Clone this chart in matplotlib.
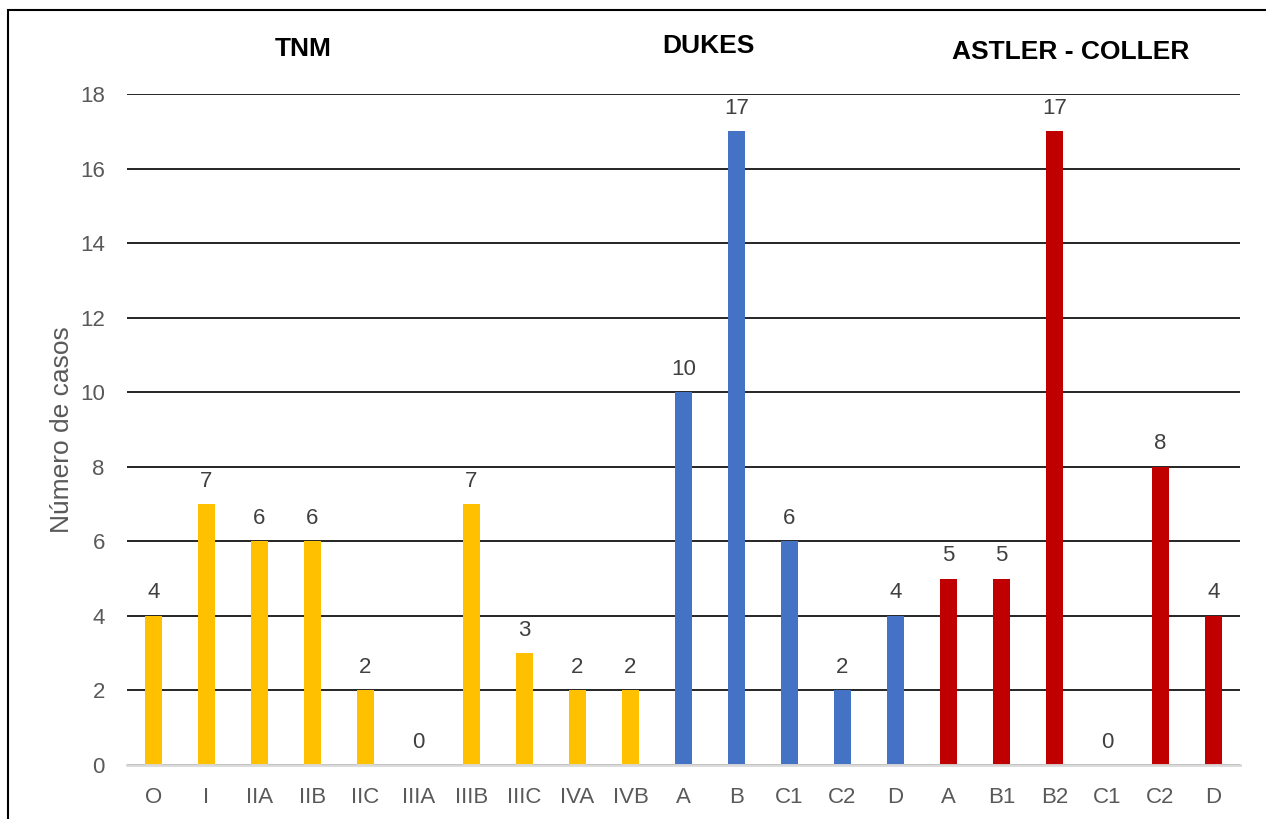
import matplotlib
matplotlib.use("Agg")
import matplotlib.pyplot as plt
from matplotlib.patches import Rectangle

plt.rcParams['font.family'] = ['Liberation Sans', 'DejaVu Sans']

# staging systems and case counts
tnm_labels = ["O", "I", "IIA", "IIB", "IIC", "IIIA", "IIIB", "IIIC", "IVA", "IVB"]
tnm_values = [4, 7, 6, 6, 2, 0, 7, 3, 2, 2]
dukes_labels = ["A", "B", "C1", "C2", "D"]
dukes_values = [10, 17, 6, 2, 4]
astler_labels = ["A", "B1", "B2", "C1", "C2", "D"]
astler_values = [5, 5, 17, 0, 8, 4]

groups = [
    ("TNM", tnm_labels, tnm_values, "#FFC000"),
    ("DUKES", dukes_labels, dukes_values, "#4472C4"),
    ("ASTLER - COLLER", astler_labels, astler_values, "#C00000"),
]

fig = plt.figure(figsize=(12.66, 8.19), dpi=100)
ax = fig.add_axes([127 / 1266, 1 - 765 / 819, (1240 - 127) / 1266, (765 - 94) / 819])

tick_labels = []
pos = 0
for name, labels, values, color in groups:
    xs = list(range(pos, pos + len(labels)))
    ax.bar(xs, values, width=0.32, color=color, zorder=3)
    for x, v in zip(xs, values):
        ax.annotate(str(v), (x, v), xytext=(0, 9), textcoords="offset points",
                    ha="center", va="bottom", fontsize=16, color="#404040")
    tick_labels += labels
    pos += len(labels)

ax.set_xticks(range(len(tick_labels)))
ax.set_xticklabels(tick_labels)
ax.set_xlim(-0.5, len(tick_labels) - 0.5)
ax.set_ylim(0, 18)
ax.set_yticks(range(0, 19, 2))

ax.tick_params(axis="both", length=0, labelsize=16, labelcolor="#595959")
ax.tick_params(axis="x", pad=16)
ax.tick_params(axis="y", pad=16)
ax.set_ylabel("Número de casos", fontsize=19, color="#595959", labelpad=4)

ax.yaxis.grid(True, color="black", linewidth=1.2, zorder=0)
ax.set_axisbelow(True)
for s in ["top", "right", "left"]:
    ax.spines[s].set_visible(False)
ax.spines["bottom"].set_color("#D9D9D9")
ax.spines["bottom"].set_linewidth(2)
ax.spines["bottom"].set_zorder(4)

# group headers above the plot
fig.text(303 / 1266, 1 - 49 / 819, "TNM", ha="center", va="center",
         fontsize=19, fontweight="bold")
fig.text(708 / 1266, 1 - 46 / 819, "DUKES", ha="center", va="center",
         fontsize=19, fontweight="bold")
fig.text(1071 / 1266, 1 - 52 / 819, "ASTLER - COLLER", ha="center", va="center",
         fontsize=19, fontweight="bold")

# outer frame
fig.add_artist(Rectangle((8 / 1266, -0.05), 1.1, 1 - 10 / 819 + 0.05,
                         transform=fig.transFigure, fill=False,
                         edgecolor="black", linewidth=1.5))

fig.savefig("out.png", dpi=100)
